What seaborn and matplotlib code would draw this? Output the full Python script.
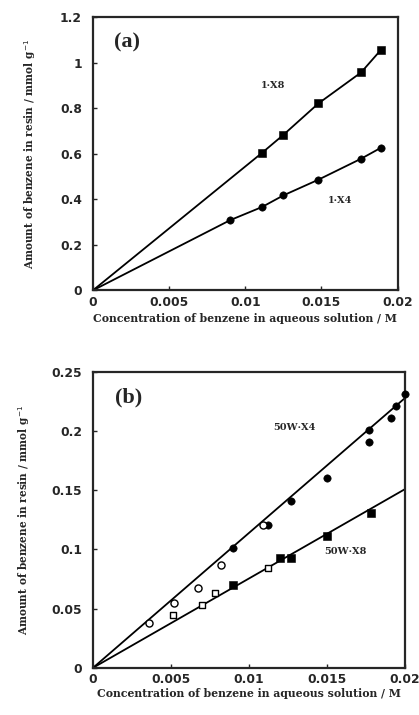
#Import Libraries
import pandas as pd
import numpy as np
import seaborn as sb
import matplotlib
matplotlib.use("Agg")
import matplotlib.pyplot as plt

#Data -- panel (a)
a_x8_conc = [0.0111, 0.0125, 0.0148, 0.0176, 0.0189]
a_x8_amount = [0.604, 0.683, 0.821, 0.957, 1.056]
a_x4_conc = [0.0090, 0.0111, 0.0125, 0.0148, 0.0176, 0.0189]
a_x4_amount = [0.308, 0.366, 0.417, 0.486, 0.578, 0.626]

#Data -- panel (b)
b_x4_filled_conc = [0.0090, 0.0112, 0.0127, 0.0150, 0.0177, 0.0177, 0.0191, 0.0194, 0.0200]
b_x4_filled_amount = [0.101, 0.121, 0.141, 0.160, 0.191, 0.201, 0.211, 0.221, 0.231]
b_x4_open_conc = [0.0036, 0.0052, 0.0067, 0.0082, 0.0109]
b_x4_open_amount = [0.038, 0.055, 0.067, 0.087, 0.121]
b_x8_filled_conc = [0.0090, 0.0120, 0.0127, 0.0150, 0.0178]
b_x8_filled_amount = [0.070, 0.093, 0.093, 0.111, 0.131]
b_x8_open_conc = [0.0051, 0.0070, 0.0078, 0.0112]
b_x8_open_amount = [0.045, 0.053, 0.063, 0.084]
b_x4_fit_conc = [0.0, 0.0200]
b_x4_fit_amount = [0.0, 0.228]
b_x8_fit_conc = [0.0, 0.0200]
b_x8_fit_amount = [0.0, 0.151]

#Tick labels
x_ticks = [0, 0.005, 0.01, 0.015, 0.02]
x_tick_labels = ["0", "0.005", "0.01", "0.015", "0.02"]
a_y_ticks = [0, 0.2, 0.4, 0.6, 0.8, 1.0, 1.2]
a_y_tick_labels = ["0", "0.2", "0.4", "0.6", "0.8", "1", "1.2"]
b_y_ticks = [0, 0.05, 0.1, 0.15, 0.2, 0.25]
b_y_tick_labels = ["0", "0.05", "0.1", "0.15", "0.2", "0.25"]

sb.set_style("ticks")
serif = ["DejaVu Serif"]
label_serif = ["Liberation Serif", "DejaVu Serif"]
plt.rcParams["font.family"] = ["DejaVu Sans"]

fig = plt.figure(figsize=(4.19, 7.15), dpi=100)
axA = fig.add_axes([0.222, 0.594, 0.727, 0.382])
axB = fig.add_axes([0.222, 0.066, 0.745, 0.414])

#Panel (a) lines go from the origin through the points
def with_origin(xs, ys):
    return pd.DataFrame({"x": [0.0] + xs, "y": [0.0] + ys})

sb.lineplot(data=with_origin(a_x8_conc, a_x8_amount), x="x", y="y", ax=axA,
            color="black", lw=1.3, sort=False)
sb.lineplot(data=with_origin(a_x4_conc, a_x4_amount), x="x", y="y", ax=axA,
            color="black", lw=1.3, sort=False)
sb.scatterplot(x=a_x8_conc, y=a_x8_amount, ax=axA, marker="s", s=26,
               color="black", edgecolor="black", zorder=3, clip_on=False)
sb.scatterplot(x=a_x4_conc, y=a_x4_amount, ax=axA, marker="o", s=28,
               color="black", edgecolor="black", zorder=3, clip_on=False)
axA.text(0.0118, 0.90, "1·X8", family=serif, fontweight="bold", fontsize=7,
         ha="center", va="center")
axA.text(0.0162, 0.394, "1·X4", family=serif, fontweight="bold", fontsize=7,
         ha="center", va="center")
axA.text(0.0022, 1.09, "(a)", family=label_serif, fontweight="bold", fontsize=16,
         ha="center", va="center")
axA.set_ylim(0, 1.2)
axA.set_yticks(a_y_ticks)
axA.set_yticklabels(a_y_tick_labels)

#Panel (b)
sb.lineplot(x=b_x4_fit_conc, y=b_x4_fit_amount, ax=axB, color="black", lw=1.3)
sb.lineplot(x=b_x8_fit_conc, y=b_x8_fit_amount, ax=axB, color="black", lw=1.3)
sb.scatterplot(x=b_x4_filled_conc, y=b_x4_filled_amount, ax=axB, marker="o",
               s=28, color="black", edgecolor="black", zorder=3, clip_on=False)
sb.scatterplot(x=b_x4_open_conc, y=b_x4_open_amount, ax=axB, marker="o",
               s=26, color="white", edgecolor="black", linewidth=1, zorder=3)
sb.scatterplot(x=b_x8_filled_conc, y=b_x8_filled_amount, ax=axB, marker="s",
               s=26, color="black", edgecolor="black", zorder=3)
sb.scatterplot(x=b_x8_open_conc, y=b_x8_open_amount, ax=axB, marker="s",
               s=24, color="white", edgecolor="black", linewidth=1, zorder=3)
axB.text(0.0129, 0.203, "50W·X4", family=serif, fontweight="bold", fontsize=7,
         ha="center", va="center")
axB.text(0.0162, 0.098, "50W·X8", family=serif, fontweight="bold", fontsize=7,
         ha="center", va="center")
axB.text(0.00225, 0.228, "(b)", family=label_serif, fontweight="bold", fontsize=16,
         ha="center", va="center")
axB.set_ylim(0, 0.25)
axB.set_yticks(b_y_ticks)
axB.set_yticklabels(b_y_tick_labels)

#Shared styling
for ax in (axA, axB):
    ax.set_xlim(0, 0.02)
    ax.set_xticks(x_ticks)
    ax.set_xticklabels(x_tick_labels)
    ax.tick_params(axis="x", direction="in", length=3, width=1, labelsize=8.8, pad=4)
    ax.tick_params(axis="y", direction="in", length=3, width=1, labelsize=8.8, pad=8)
    for lab in ax.get_xticklabels() + ax.get_yticklabels():
        lab.set_fontweight("bold")
    for sp in ax.spines.values():
        sp.set_linewidth(1.6)
        sp.set_visible(True)
    ax.set_xlabel("Concentration of benzene in aqueous solution / M",
                  family=serif, fontweight="bold", fontsize=7.8, labelpad=3)
    ax.set_ylabel("Amount of benzene in resin / mmol g$^{-1}$",
                  family=serif, fontweight="bold", fontsize=7.6, labelpad=16)

axB.xaxis.labelpad = 1
axB.yaxis.labelpad = 14

plt.savefig("out.png", dpi=100)
